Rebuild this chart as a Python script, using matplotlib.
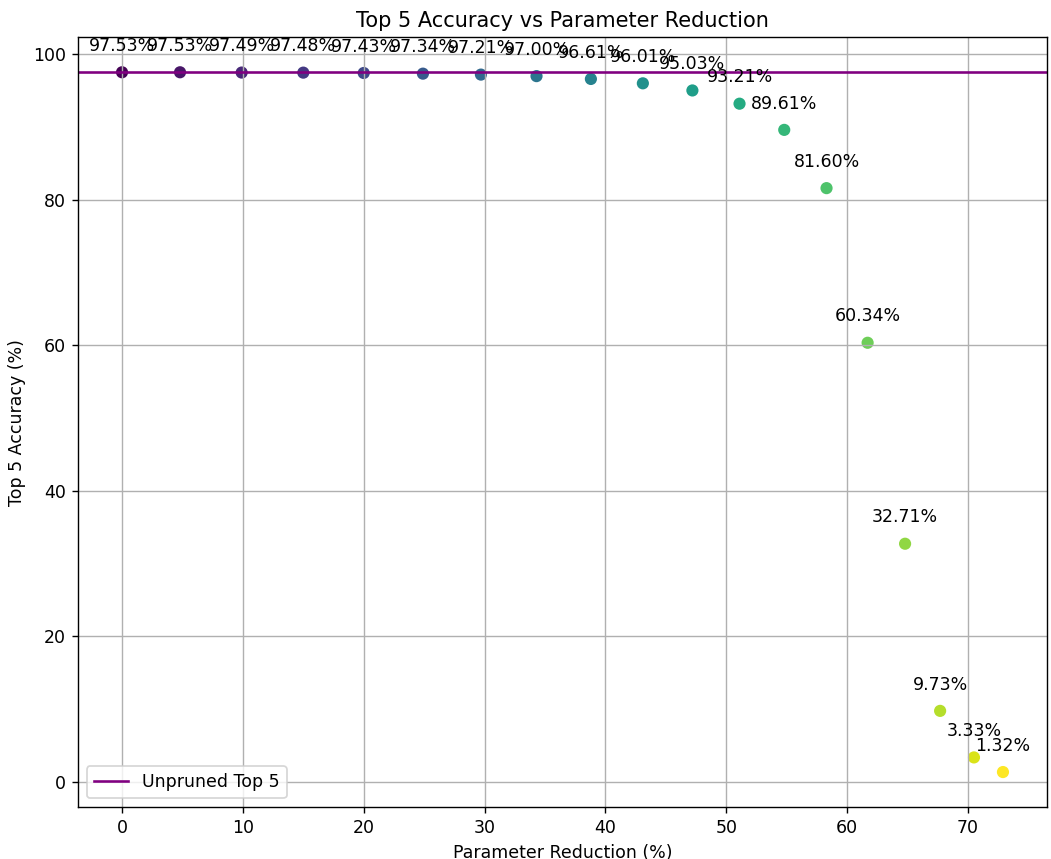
import numpy as np
import matplotlib
matplotlib.use("Agg")
import matplotlib.pyplot as plt

# parameter reduction (%) and top-5 accuracy (%)
param_reduction = [0.0, 4.8, 9.9, 15.0, 20.0, 24.9, 29.7, 34.3, 38.8, 43.1,
                   47.2, 51.1, 54.8, 58.3, 61.7, 64.8, 67.7, 70.5, 72.9]
top5_acc = [97.53, 97.53, 97.49, 97.48, 97.43, 97.34, 97.21, 97.00, 96.61, 96.01,
            95.03, 93.21, 89.61, 81.60, 60.34, 32.71, 9.73, 3.33, 1.32]
unpruned_top5 = 97.53


def main():
    dpi = 125
    fig, ax = plt.subplots(figsize=(1051 / dpi, 859 / dpi), dpi=dpi)
    fig.subplots_adjust(left=0.0742, right=0.9962, top=0.9566, bottom=0.0605)

    colors = np.arange(len(param_reduction))
    ax.scatter(param_reduction, top5_acc, c=colors, cmap="viridis")
    ax.axhline(unpruned_top5, color="purple", label="Unpruned Top 5")

    for x, y in zip(param_reduction, top5_acc):
        ax.annotate(f"{y:.2f}%", (x, y), xytext=(0, 10), textcoords="offset points",
                    ha="center", va="bottom")

    ax.set_title("Top 5 Accuracy vs Parameter Reduction")
    ax.set_xlabel("Parameter Reduction (%)")
    ax.set_ylabel("Top 5 Accuracy (%)")
    ax.grid(True)
    ax.legend(loc="lower left")
    fig.savefig("out.png", dpi=dpi)
    plt.close(fig)


if __name__ == "__main__":
    main()
